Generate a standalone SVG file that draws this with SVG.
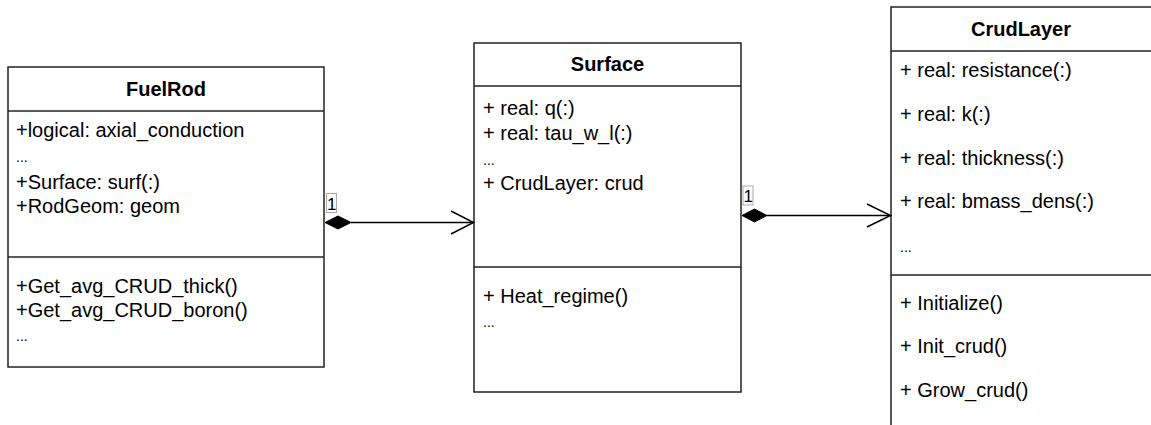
<svg xmlns="http://www.w3.org/2000/svg" width="1151" height="425" viewBox="0 0 1151 425">
<defs>
<style>
.box{fill:#fff;stroke:#222;stroke-width:1.5}
.div{stroke:#222;stroke-width:1.5}
.title{font-family:"Liberation Sans",Arial,sans-serif;font-size:20px;font-weight:bold;fill:#000;text-anchor:middle}
.t{font-family:"Liberation Sans",Arial,sans-serif;font-size:20px;fill:#000}
.dots{font-family:"Liberation Sans",Arial,sans-serif;font-size:14px;fill:#000}
.conn{stroke:#000;stroke-width:1.5;fill:none}
.dia{fill:#000;stroke:#000;stroke-width:1}
.lblbox{fill:#fff;stroke:#aaa;stroke-width:1}
.lbl{font-family:"Liberation Sans",Arial,sans-serif;font-size:17px;fill:#000}
</style>
</defs>
<rect width="1151" height="425" fill="#fff"/>
<g id="FuelRod">
<rect class="box" x="8" y="67" width="316" height="300"/>
<line class="div" x1="8" y1="111" x2="324" y2="111"/>
<line class="div" x1="8" y1="257" x2="324" y2="257"/>
<text class="title" x="166" y="96">FuelRod</text>
<text class="t" x="16" y="137">+logical: axial_conduction</text>
<text class="dots" x="16" y="162">...</text>
<text class="t" x="16" y="189">+Surface: surf(:)</text>
<text class="t" x="16" y="213">+RodGeom: geom</text>
<text class="t" x="16" y="293">+Get_avg_CRUD_thick()</text>
<text class="t" x="16" y="317">+Get_avg_CRUD_boron()</text>
<text class="dots" x="16" y="341">...</text>
</g>
<g id="Surface">
<rect class="box" x="474" y="43" width="267" height="349"/>
<line class="div" x1="474" y1="86" x2="741" y2="86"/>
<line class="div" x1="474" y1="267" x2="741" y2="267"/>
<text class="title" x="607.5" y="71">Surface</text>
<text class="t" x="483" y="115">+ real: q(:)</text>
<text class="t" x="483" y="140">+ real: tau_w_l(:)</text>
<text class="dots" x="483" y="165">...</text>
<text class="t" x="483" y="190">+ CrudLayer: crud</text>
<text class="t" x="483" y="303">+ Heat_regime()</text>
<text class="dots" x="483" y="327">...</text>
</g>
<g id="CrudLayer">
<rect class="box" x="891" y="7" width="261" height="430"/>
<line class="div" x1="891" y1="51" x2="1152" y2="51"/>
<line class="div" x1="891" y1="275" x2="1152" y2="275"/>
<text class="title" x="1021" y="36">CrudLayer</text>
<text class="t" x="900" y="77">+ real: resistance(:)</text>
<text class="t" x="900" y="121">+ real: k(:)</text>
<text class="t" x="900" y="165">+ real: thickness(:)</text>
<text class="t" x="900" y="208">+ real: bmass_dens(:)</text>
<text class="dots" x="900" y="252">...</text>
<text class="t" x="900" y="310">+ Initialize()</text>
<text class="t" x="900" y="353">+ Init_crud()</text>
<text class="t" x="900" y="397">+ Grow_crud()</text>
</g>
<g id="connectors">
<g id="fuelrod-surface">
<line class="conn" x1="351" y1="222.5" x2="473" y2="222.5"/>
<polygon class="dia" points="325,222.5 338,216 351,222.5 338,229"/>
<polyline class="conn" points="451,211 473.5,222.5 451,234"/>
<rect class="lblbox" x="326.5" y="193.5" width="10" height="19"/>
<text class="lbl" x="327" y="209.5">1</text>
</g>
<g id="surface-crudlayer">
<line class="conn" x1="767" y1="215.5" x2="890" y2="215.5"/>
<polygon class="dia" points="742,215.5 754.5,209 767,215.5 754.5,222"/>
<polyline class="conn" points="867,204 890.5,215.5 867,227"/>
<rect class="lblbox" x="743" y="186" width="10" height="19"/>
<text class="lbl" x="743.5" y="202">1</text>
</g>
</g>
</svg>
